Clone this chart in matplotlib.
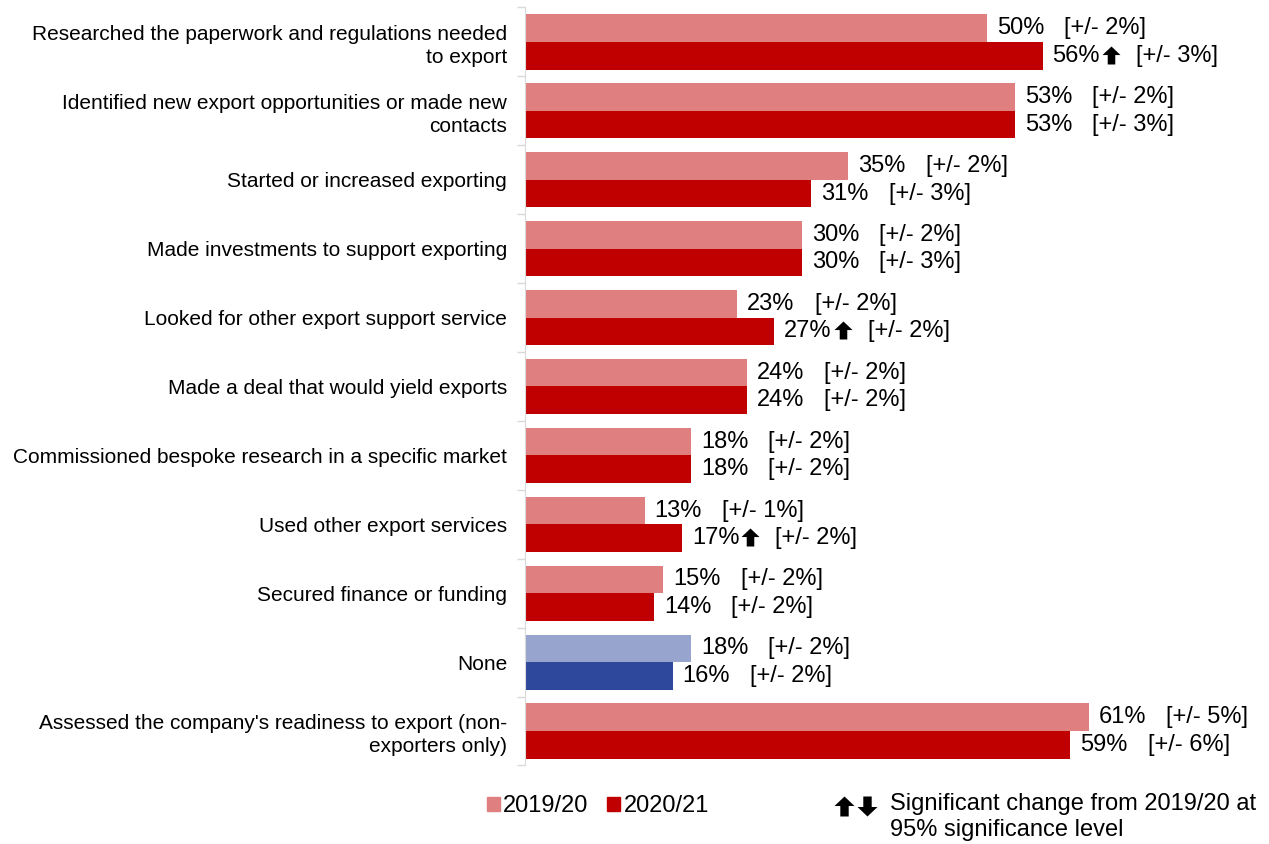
import numpy as np
import matplotlib.pyplot as plt
from matplotlib.patches import Patch
from matplotlib.path import Path
from matplotlib.lines import Line2D

plt.rcParams['font.family'] = ['Liberation Sans', 'DejaVu Sans']

# --- data -------------------------------------------------------------------
categories = [
    "Researched the paperwork and regulations needed\nto export",
    "Identified new export opportunities or made new\ncontacts",
    "Started or increased exporting",
    "Made investments to support exporting",
    "Looked for other export support service",
    "Made a deal that would yield exports",
    "Commissioned bespoke research in a specific market",
    "Used other export services",
    "Secured finance or funding",
    "None",
    "Assessed the company's readiness to export (non-\nexporters only)",
]
vals_1920 = [50, 53, 35, 30, 23, 24, 18, 13, 15, 18, 61]
vals_2021 = [56, 53, 31, 30, 27, 24, 18, 17, 14, 16, 59]
moe_1920 = [2, 2, 2, 2, 2, 2, 2, 1, 2, 2, 5]
moe_2021 = [3, 3, 3, 3, 2, 2, 2, 2, 2, 2, 6]
# +1 = significant increase vs 2019/20, -1 = decrease, 0 = no change
sig_2021 = [1, 0, 0, 0, 1, 0, 0, 1, 0, 0, 0]

LIGHT_RED, DARK_RED = "#E07F7F", "#C00000"
LIGHT_BLUE, DARK_BLUE = "#97A5CE", "#2E489B"
VAL_FS = 17

# block arrow markers (head + shaft)
_up = [(-1, 0.05), (0, 1), (1, 0.05), (0.42, 0.05), (0.42, -1),
       (-0.42, -1), (-0.42, 0.05), (-1, 0.05)]
UP = Path(_up, closed=True)
DOWN = Path([(x, -y) for x, y in _up], closed=True)
ARROW_PX = 18

fig = plt.figure(figsize=(12.69, 8.44), dpi=100)
ax = fig.add_axes([524.5 / 1269, 1 - 765.5 / 844, 740 / 1269, 758 / 844])

y = np.arange(len(categories))
h = 0.4
c1 = [LIGHT_BLUE if c == "None" else LIGHT_RED for c in categories]
c2 = [DARK_BLUE if c == "None" else DARK_RED for c in categories]
ax.barh(y - h / 2, vals_1920, height=h, color=c1)
ax.barh(y + h / 2, vals_2021, height=h, color=c2)

ax.set_xlim(0, 80)
ax.set_ylim(len(categories) - 0.5, -0.5)
ax.set_yticks(y)
ax.set_yticklabels(categories, fontsize=15, linespacing=1.25)
ax.set_yticks(np.arange(len(categories) + 1) - 0.5, minor=True)
ax.tick_params(axis="y", which="major", length=0, pad=12.5)
ax.tick_params(axis="y", which="minor", length=6, color="#D9D9D9", width=1)
ax.set_xticks([])
for side in ["top", "right", "bottom"]:
    ax.spines[side].set_visible(False)
ax.spines["left"].set_color("#D9D9D9")

# value labels: "NN%", optional significance arrow, then margin of error
labels = []
for vals, moes, sigs, off in [(vals_1920, moe_1920, [0] * len(y), -h / 2),
                              (vals_2021, moe_2021, sig_2021, h / 2)]:
    for i in range(len(categories)):
        t = ax.annotate(f"{vals[i]}%", (vals[i], y[i] + off), xytext=(10, 0),
                        textcoords="offset pixels", va="center",
                        fontsize=VAL_FS)
        labels.append((t, moes[i], sigs[i]))

fig.canvas.draw()
r = fig.canvas.get_renderer()
inv = ax.transData.inverted()
for t, moe, sig in labels:
    bb = t.get_window_extent(r)
    xd, yd = bb.x1, 0.5 * (bb.y0 + bb.y1)
    gap = 20
    if sig:
        ax_, ay_ = inv.transform((xd + 2 + ARROW_PX / 2, yd + 1))
        ax.plot(ax_, ay_, marker=UP if sig > 0 else DOWN, ms=ARROW_PX * 0.72,
                color="black", mew=0, clip_on=False)
        xd += 2 + ARROW_PX
        gap = 16
    bx, by = inv.transform((xd, yd))
    ax.annotate(f"[+/- {moe}%]", (bx, by), xytext=(gap, 0),
                textcoords="offset pixels", va="center", fontsize=VAL_FS)

# legend
handles = [Patch(color=LIGHT_RED), Patch(color=DARK_RED)]
fig.legend(handles, ["2019/20", "2020/21"], ncol=2, loc="center left",
           bbox_to_anchor=(470 / 1269, 1 - 806 / 844), frameon=False,
           fontsize=VAL_FS, handlelength=0.55, handleheight=0.55,
           handletextpad=0.15, columnspacing=0.8, borderpad=0.2)
for xpx, mk in [(844, UP), (867, DOWN)]:
    fig.add_artist(Line2D([xpx / 1269], [1 - 806 / 844], marker=mk,
                          ms=20 * 0.72, color="black", mew=0,
                          transform=fig.transFigure))
fig.text(890 / 1269, 1 - 817 / 844,
         "Significant change from 2019/20 at\n95% significance level",
         fontsize=VAL_FS, va="center", ha="left", linespacing=1.2)

fig.savefig("out.png", dpi=100)
